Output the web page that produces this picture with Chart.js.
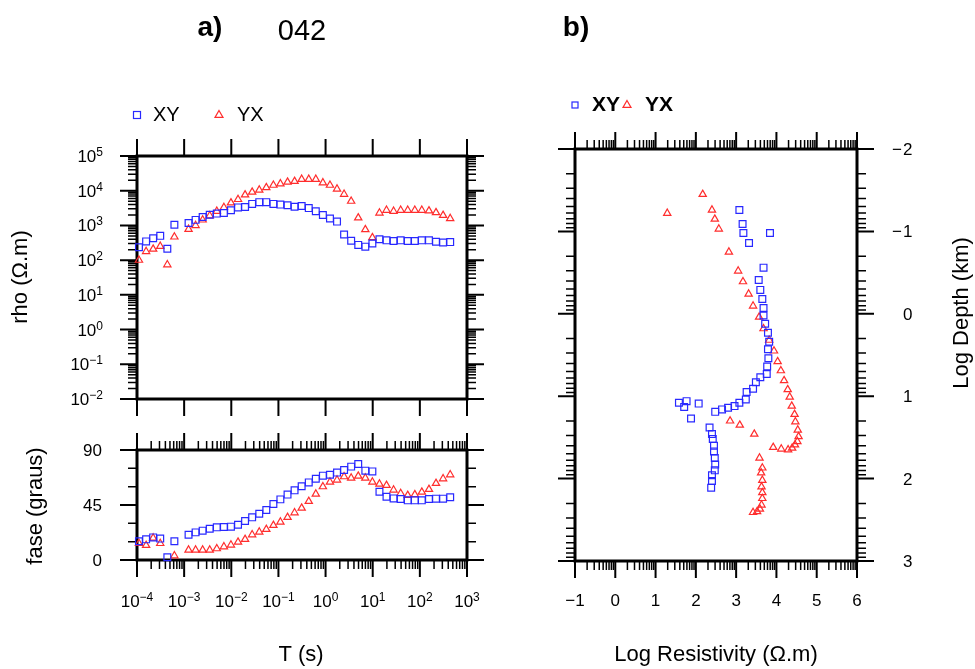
<!DOCTYPE html>
<html>
<head>
<meta charset="utf-8">
<script src="https://cdn.jsdelivr.net/npm/chart.js@4.4.1/dist/chart.umd.min.js"></script>
<style>
  html, body { margin: 0; padding: 0; background: #fff; }
  #wrap { position: relative; width: 975px; height: 669px; overflow: hidden; }
  canvas { position: absolute; left: 0; top: 0; }
</style>
</head>
<body>
<div id="wrap">
  <canvas id="rho" width="975" height="669"></canvas>
  <canvas id="fase" width="975" height="669"></canvas>
  <canvas id="bost" width="975" height="669"></canvas>
</div>
<script>
// periods (s)
const periods = [1.10e-4, 1.56e-4, 2.20e-4, 3.11e-4, 4.40e-4, 6.21e-4, 1.24e-3, 1.75e-3, 2.47e-3, 3.49e-3,
  4.93e-3, 6.97e-3, 9.84e-3, 1.39e-2, 1.96e-2, 2.77e-2, 3.92e-2, 5.53e-2, 7.82e-2, 0.110,
  0.156, 0.220, 0.311, 0.440, 0.621, 0.877, 1.24, 1.75, 2.47, 3.49,
  4.93, 6.97, 9.84, 13.9, 19.6, 27.7, 39.2, 55.3, 78.2, 110,
  156, 220, 311, 440];

// apparent resistivity (ohm.m)
const rhoXY = [234, 347, 427, 501, 214, 1050, 1175, 1445, 1740, 2040, 2190, 2290, 2750, 3310, 3390, 4170,
  4680, 4680, 4170, 3980, 3800, 3470, 3630, 3160, 2570, 2000, 1585, 1290, 550, 363, 275, 245, 302, 398,
  372, 355, 372, 355, 355, 372, 372, 339, 324, 331];
const rhoYX = [100, 178, 209, 251, 74, 468, 776, 1000, 1445, 1905, 2570, 3310, 4470, 5620, 7590, 9120,
  10470, 12300, 14450, 15850, 17780, 18620, 21380, 21380, 21380, 16980, 14450, 11220, 7940, 5010, 1660,
  759, 447, 2290, 2750, 2570, 2750, 2750, 2750, 2750, 2630, 2340, 1950, 1585];

// phase (degrees)
const faseXY = [15.3, 16.9, 18.5, 17.5, 2.2, 15.3, 20.7, 22.6, 24.0, 25.6, 26.7, 27.0, 27.3, 28.9, 31.9,
  34.9, 37.9, 40.9, 45.8, 49.6, 53.5, 57.0, 60.3, 63.5, 66.5, 69.0, 69.8, 71.5, 73.6, 76.4, 78.5, 73.1,
  72.5, 55.9, 51.8, 50.4, 49.9, 48.8, 48.8, 48.8, 49.9, 50.2, 50.2, 51.3];
const faseYX = [13.6, 12.0, 18.0, 13.6, null, 3.5, 8.2, 8.2, 8.2, 8.2, 9.3, 10.9, 12.3, 14.7, 16.9, 20.7,
  22.9, 25.1, 28.4, 31.1, 34.9, 38.7, 42.5, 48.0, 54.0, 60.0, 63.8, 65.5, 68.2, 67.1, 68.7, 67.1, 63.8,
  62.2, 61.1, 57.3, 54.5, 52.9, 53.5, 55.6, 57.8, 62.7, 66.5, 69.8];

// panel b: log resistivity vs log depth
const bResXY = [3.08, 3.16, 3.18, 3.84, 3.32, 3.68, 3.56, 3.60, 3.65, 3.68, 3.68, 3.72, 3.79, 3.82, 3.79,
  3.80, 3.77, 3.76, 3.60, 3.49, 3.42, 3.26, 3.24, 3.08, 2.96, 2.80, 2.65, 2.48, 2.07, 1.77, 1.58, 1.71,
  1.88, 2.34, 2.40, 2.42, 2.45, 2.45, 2.47, 2.48, 2.47, 2.40, 2.40, 2.38];
const bDepXY = [-1.26, -1.09, -0.98, -0.98, -0.86, -0.56, -0.41, -0.29, -0.18, -0.07, 0.02, 0.12, 0.23,
  0.34, 0.43, 0.54, 0.64, 0.73, 0.77, 0.83, 0.91, 0.95, 1.04, 1.08, 1.12, 1.14, 1.16, 1.19, 1.09, 1.06,
  1.08, 1.13, 1.27, 1.38, 1.46, 1.52, 1.60, 1.67, 1.75, 1.83, 1.90, 1.96, 2.03, 2.11];
const bResYX = [1.29, 2.17, 2.40, 2.47, 2.57, 2.82, 3.05, 3.17, 3.31, 3.42, 3.57, 3.68, 3.82, 3.94, 4.03,
  4.11, 4.19, 4.28, 4.33, 4.38, 4.45, 4.47, 4.53, 4.55, 4.52, 4.46, 4.39, 4.29, 4.12, 3.92, 3.45, 3.09,
  2.85, 3.58, 3.65, 3.62, 3.65, 3.63, 3.65, 3.65, 3.63, 3.59, 3.52, 3.42];
const bDepYX = [-1.22, -1.45, -1.26, -1.15, -1.03, -0.75, -0.52, -0.39, -0.24, -0.095, 0.04, 0.18, 0.32,
  0.45, 0.58, 0.69, 0.81, 0.92, 1.01, 1.12, 1.22, 1.31, 1.41, 1.49, 1.55, 1.59, 1.63, 1.65, 1.64, 1.62,
  1.46, 1.35, 1.30, 1.75, 1.87, 1.93, 2.02, 2.10, 2.17, 2.24, 2.32, 2.37, 2.40, 2.41];

// axis ticks
const tDecades = [1e-4, 1e-3, 1e-2, 1e-1, 1, 10, 100, 1000];
const tExps = ['\u22124', '\u22123', '\u22122', '\u22121', '0', '1', '2', '3'];
const rhoDecades = [1e5, 1e4, 1e3, 1e2, 10, 1, 0.1, 0.01];
const rhoExps = ['5', '4', '3', '2', '1', '0', '\u22121', '\u22122'];
const faseMajor = [0, 45, 90];
const faseMinor = [15, 30, 60, 75];
const resTicks = [-1, 0, 1, 2, 3, 4, 5, 6];
const depTicks = [-2, -1, 0, 1, 2, 3];

const BLUE = 'rgb(40,40,255)';
const RED = 'rgb(255,45,45)';
const FONT = '"Liberation Sans", Arial, Helvetica, sans-serif';

function logMinor(e0, e1) {
  const out = [];
  for (let e = e0; e < e1; e++) for (let k = 2; k <= 9; k++) out.push(k * Math.pow(10, e));
  return out;
}
function unitMinor(a, b) {
  const out = [];
  for (let i = a; i < b; i++) for (let k = 2; k <= 9; k++) out.push(i + Math.log10(k));
  return out;
}

function ticksX(ctx, sc, vals, y, len, lw) {
  ctx.lineWidth = lw;
  ctx.beginPath();
  vals.forEach(v => { const x = sc.getPixelForValue(v); ctx.moveTo(x, y); ctx.lineTo(x, y + len); });
  ctx.stroke();
}
function ticksY(ctx, sc, vals, x, len, lw) {
  ctx.lineWidth = lw;
  ctx.beginPath();
  vals.forEach(v => { const y = sc.getPixelForValue(v); ctx.moveTo(x, y); ctx.lineTo(x + len, y); });
  ctx.stroke();
}
function frame(ctx, a) {
  ctx.strokeStyle = '#000';
  ctx.lineWidth = 3;
  ctx.strokeRect(a.left, a.top, a.right - a.left, a.bottom - a.top);
}
function text(ctx, s, x, y, font, align, base) {
  ctx.font = font;
  ctx.textAlign = align || 'left';
  ctx.textBaseline = base || 'alphabetic';
  ctx.fillStyle = '#000';
  ctx.fillText(s, x, y);
}
function vtext(ctx, s, x, y, font) {
  ctx.save();
  ctx.translate(x, y);
  ctx.rotate(-Math.PI / 2);
  text(ctx, s, 0, 0, font, 'center', 'middle');
  ctx.restore();
}
function powLabel(ctx, exp, x, y, align) {
  ctx.font = '17px ' + FONT;
  const wb = ctx.measureText('10').width;
  ctx.font = '12px ' + FONT;
  const we = ctx.measureText(exp).width;
  const x0 = align === 'right' ? x - wb - we : x - (wb + we) / 2;
  text(ctx, '10', x0, y, '17px ' + FONT);
  text(ctx, exp, x0 + wb, y - 6, '12px ' + FONT);
}
function legendSquare(ctx, x, y, s) {
  ctx.strokeStyle = BLUE; ctx.lineWidth = 1.2;
  ctx.strokeRect(x - s / 2, y - s / 2, s, s);
}
function legendTriangle(ctx, x, y, s) {
  ctx.strokeStyle = RED; ctx.lineWidth = 1.2;
  const h = s * Math.sqrt(3) / 2;
  ctx.beginPath();
  ctx.moveTo(x, y - h / 2); ctx.lineTo(x + s / 2, y + h / 2); ctx.lineTo(x - s / 2, y + h / 2);
  ctx.closePath(); ctx.stroke();
}

function padFor(a) {
  return { left: a.left, top: a.top, right: 975 - a.right, bottom: 669 - a.bottom };
}
function pts(xs, ys) {
  return xs.map((x, i) => ({ x: x, y: ys[i] })).filter(p => p.y !== null);
}
function series(label, data, style, color, r) {
  return {
    label: label, data: data, pointStyle: style, pointRadius: r, borderWidth: 1.2,
    borderColor: color, backgroundColor: 'rgba(0,0,0,0)', clip: false
  };
}
function baseOptions(area, xs, ys, plugin) {
  return {
    responsive: false, animation: false, events: [],
    layout: { padding: padFor(area) },
    scales: { x: Object.assign({ display: false }, xs), y: Object.assign({ display: false }, ys) },
    plugins: { legend: { display: false }, tooltip: { enabled: false } }
  };
}

const rhoArea = { left: 137, top: 156, right: 467, bottom: 399 };
const faseArea = { left: 137, top: 450, right: 467, bottom: 560 };
const bArea = { left: 575, top: 149, right: 857, bottom: 561 };

// ---- rho panel (also draws page titles and legend a)
new Chart(document.getElementById('rho'), {
  type: 'scatter',
  data: {
    datasets: [
      series('XY', pts(periods, rhoXY), 'rect', BLUE, 4.8),
      series('YX', pts(periods, rhoYX), 'triangle', RED, 4.2)
    ]
  },
  options: baseOptions(rhoArea,
    { type: 'logarithmic', min: 1e-4, max: 1e3 },
    { type: 'logarithmic', min: 1e-2, max: 1e5 }),
  plugins: [{
    id: 'rhoFrame',
    beforeDatasetsDraw(chart) {
      const ctx = chart.ctx, a = chart.chartArea, sx = chart.scales.x, sy = chart.scales.y;
      ctx.save();
      frame(ctx, a);
      ticksX(ctx, sx, tDecades, a.top, -17, 2);
      ticksX(ctx, sx, tDecades, a.bottom, 17, 2);
      const minor = logMinor(-2, 5);
      ticksY(ctx, sy, rhoDecades, a.left, -17, 2);
      ticksY(ctx, sy, minor, a.left, -9, 1.5);
      ticksY(ctx, sy, rhoDecades, a.right, 17, 2);
      ticksY(ctx, sy, minor, a.right, 9, 1.5);
      rhoDecades.forEach((v, i) => powLabel(ctx, rhoExps[i], 103, sy.getPixelForValue(v) + 6, 'right'));
      vtext(ctx, 'rho (\u03A9.m)', 21, 277, '22px ' + FONT);
      // titles
      text(ctx, 'a)', 210, 28, 'bold 28px ' + FONT, 'center', 'middle');
      text(ctx, '042', 302, 32, '29px ' + FONT, 'center', 'middle');
      text(ctx, 'b)', 576, 28, 'bold 28px ' + FONT, 'center', 'middle');
      // legend a
      legendSquare(ctx, 137, 115, 7);
      text(ctx, 'XY', 153, 115, '20px ' + FONT, 'left', 'middle');
      legendTriangle(ctx, 219, 114, 8);
      text(ctx, 'YX', 237, 115, '20px ' + FONT, 'left', 'middle');
      ctx.restore();
    }
  }]
});

// ---- phase panel
new Chart(document.getElementById('fase'), {
  type: 'scatter',
  data: {
    datasets: [
      series('XY', pts(periods, faseXY), 'rect', BLUE, 4.8),
      series('YX', pts(periods, faseYX), 'triangle', RED, 4.2)
    ]
  },
  options: baseOptions(faseArea,
    { type: 'logarithmic', min: 1e-4, max: 1e3 },
    { type: 'linear', min: 0, max: 90 }),
  plugins: [{
    id: 'faseFrame',
    beforeDatasetsDraw(chart) {
      const ctx = chart.ctx, a = chart.chartArea, sx = chart.scales.x, sy = chart.scales.y;
      ctx.save();
      frame(ctx, a);
      const minor = logMinor(-4, 3);
      ticksX(ctx, sx, tDecades, a.top, -17, 2);
      ticksX(ctx, sx, minor, a.top, -9, 1.5);
      ticksX(ctx, sx, tDecades, a.bottom, 17, 2);
      ticksX(ctx, sx, minor, a.bottom, 9, 1.5);
      ticksY(ctx, sy, faseMajor, a.left, -17, 2);
      ticksY(ctx, sy, faseMinor, a.left, -9, 1.5);
      ticksY(ctx, sy, faseMajor, a.right, 17, 2);
      ticksY(ctx, sy, faseMinor, a.right, 9, 1.5);
      faseMajor.forEach(v => text(ctx, String(v), 102, sy.getPixelForValue(v) + 6, '17px ' + FONT, 'right'));
      tDecades.forEach((v, i) => powLabel(ctx, tExps[i], sx.getPixelForValue(v), 607, 'center'));
      vtext(ctx, 'fase (graus)', 36, 506, '22px ' + FONT);
      text(ctx, 'T (s)', 301, 655, '22px ' + FONT, 'center', 'middle');
      ctx.restore();
    }
  }]
});

// ---- panel b
new Chart(document.getElementById('bost'), {
  type: 'scatter',
  data: {
    datasets: [
      series('XY', pts(bResXY, bDepXY), 'rect', BLUE, 4.8),
      series('YX', pts(bResYX, bDepYX), 'triangle', RED, 4.2)
    ]
  },
  options: baseOptions(bArea,
    { type: 'linear', min: -1, max: 6 },
    { type: 'linear', min: -2, max: 3, reverse: true }),
  plugins: [{
    id: 'bFrame',
    beforeDatasetsDraw(chart) {
      const ctx = chart.ctx, a = chart.chartArea, sx = chart.scales.x, sy = chart.scales.y;
      ctx.save();
      frame(ctx, a);
      const mx = unitMinor(-1, 6), my = unitMinor(-2, 3);
      ticksX(ctx, sx, resTicks, a.top, -17, 2);
      ticksX(ctx, sx, mx, a.top, -9, 1.5);
      ticksX(ctx, sx, resTicks, a.bottom, 17, 2);
      ticksX(ctx, sx, mx, a.bottom, 9, 1.5);
      ticksY(ctx, sy, depTicks, a.left, -17, 2);
      ticksY(ctx, sy, my, a.left, -9, 1.5);
      ticksY(ctx, sy, depTicks, a.right, 17, 2);
      ticksY(ctx, sy, my, a.right, 9, 1.5);
      resTicks.forEach(v => text(ctx, v < 0 ? '\u2212' + Math.abs(v) : String(v),
        sx.getPixelForValue(v), 606, '17px ' + FONT, 'center'));
      depTicks.forEach(v => {
        const y = sy.getPixelForValue(v) + 6;
        text(ctx, String(Math.abs(v)), 903, y, '17px ' + FONT, 'left');
        if (v < 0) text(ctx, '\u2212', 902, y, '17px ' + FONT, 'right');
      });
      text(ctx, 'Log Resistivity (\u03A9.m)', 716, 655, '22px ' + FONT, 'center', 'middle');
      vtext(ctx, 'Log Depth (km)', 962, 313, '22px ' + FONT);
      // legend b
      legendSquare(ctx, 575, 105, 6);
      text(ctx, 'XY', 592, 105, 'bold 21px ' + FONT, 'left', 'middle');
      legendTriangle(ctx, 627, 104, 8);
      text(ctx, 'YX', 645, 105, 'bold 21px ' + FONT, 'left', 'middle');
      ctx.restore();
    }
  }]
});
</script>
</body>
</html>
